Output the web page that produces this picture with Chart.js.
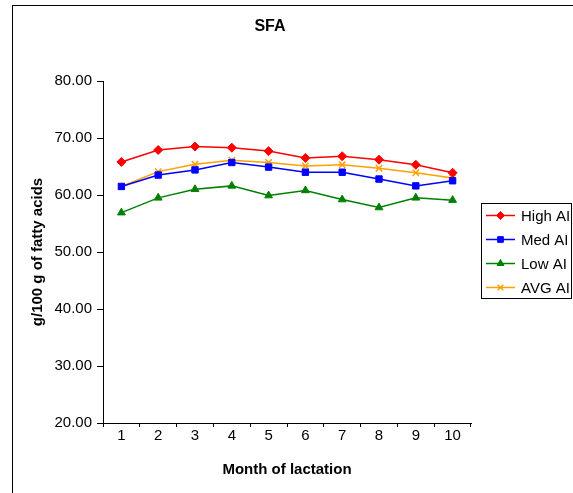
<!DOCTYPE html>
<html>
<head>
<meta charset="utf-8">
<script src="https://cdn.jsdelivr.net/npm/chart.js@4/dist/chart.umd.min.js"></script>
<style>
  html, body { margin: 0; padding: 0; background: #fff; }
  #wrap { width: 573px; height: 493px; position: relative; }
</style>
</head>
<body>
<div id="wrap"><canvas id="sfaChart"></canvas></div>
<script>
// Chart data
const months = ['1', '2', '3', '4', '5', '6', '7', '8', '9', '10'];
const highAI = [65.8, 67.9, 68.5, 68.3, 67.7, 66.5, 66.8, 66.2, 65.3, 63.9];
const medAI  = [61.5, 63.5, 64.4, 65.7, 64.9, 64.0, 64.0, 62.8, 61.6, 62.5];
const lowAI  = [56.9, 59.5, 61.0, 61.6, 59.9, 60.8, 59.2, 57.8, 59.5, 59.1];
const avgAI  = [61.5, 64.1, 65.4, 66.1, 65.7, 65.1, 65.3, 64.7, 63.9, 63.0];
const yTicks = [20, 30, 40, 50, 60, 70, 80];

const FONT = 'Liberation Sans, Arial, sans-serif';

function makeSeries(label, data, color, style, radius) {
    return {
        label: label,
        data: data,
        borderColor: color,
        backgroundColor: color,
        borderWidth: 1.5,
        pointStyle: style,
        pointRadius: radius,
        pointHoverRadius: radius,
        pointBorderWidth: style === 'crossRot' ? 1.5 : 1,
        tension: 0,
        fill: false
    };
}

// frame, title and boxed legend
const decorPlugin = {
    id: 'decor',
    beforeDraw(chart) {
        const ctx = chart.ctx;
        ctx.save();
        ctx.fillStyle = '#fff';
        ctx.fillRect(0, 0, chart.width, chart.height);
        ctx.strokeStyle = '#000';
        ctx.lineWidth = 1;
        ctx.strokeRect(12.5, 5.5, 700, 700);
        ctx.restore();
    },
    afterDraw(chart) {
        const ctx = chart.ctx;
        ctx.save();
        ctx.fillStyle = '#000';
        ctx.font = 'bold 16px ' + FONT;
        ctx.textAlign = 'center';
        ctx.textBaseline = 'middle';
        ctx.fillText('SFA', 270, 27);

        // legend box
        ctx.strokeStyle = '#000';
        ctx.lineWidth = 1;
        ctx.strokeRect(481.5, 203.5, 90, 95);
        ctx.font = '15px ' + FONT;
        ctx.textAlign = 'left';
        chart.data.datasets.forEach((ds, i) => {
            const y = 215.5 + i * 24;
            ctx.strokeStyle = ds.borderColor;
            ctx.fillStyle = ds.backgroundColor;
            ctx.lineWidth = 1.5;
            ctx.beginPath();
            ctx.moveTo(486, y);
            ctx.lineTo(515, y);
            ctx.stroke();
            ctx.lineWidth = ds.pointBorderWidth;
            Chart.helpers.drawPoint(ctx, {
                pointStyle: ds.pointStyle,
                radius: 4,
                rotation: 0,
                borderWidth: ds.pointBorderWidth
            }, 500.5, y);
            ctx.fillStyle = '#000';
            ctx.fillText(ds.label, 521, y + 1);
        });
        ctx.restore();
    }
};

const ctx = document.getElementById('sfaChart');
const chart = new Chart(ctx, {
    type: 'line',
    data: {
        labels: months,
        datasets: [
            makeSeries('High AI', highAI, '#ff0000', 'rectRot', 4.5),
            makeSeries('Med AI', medAI, '#0000ff', 'rect', 4.5),
            makeSeries('Low AI', lowAI, '#008000', 'triangle', 4.5),
            makeSeries('AVG AI', avgAI, '#ffa000', 'crossRot', 4.5)
        ]
    },
    options: {
        responsive: true,
        maintainAspectRatio: false,
        animation: false,
        layout: { padding: { top: 81, left: 25, right: 102, bottom: 10 } },
        plugins: {
            legend: { display: false },
            title: { display: false },
            tooltip: { enabled: false }
        },
        scales: {
            x: {
                offset: true,
                grid: {
                    offset: true,
                    drawOnChartArea: false,
                    color: '#000',
                    tickLength: 4
                },
                border: { color: '#000', width: 1 },
                ticks: { color: '#000', font: { family: FONT, size: 15 }, padding: 0, maxRotation: 0 },
                title: {
                    display: true,
                    text: 'Month of lactation',
                    color: '#000',
                    font: { family: FONT, size: 15, weight: 'bold' }
                },
                afterFit(scale) { scale.height = 60; }
            },
            y: {
                min: yTicks[0],
                max: yTicks[yTicks.length - 1],
                afterBuildTicks(scale) {
                    scale.ticks = yTicks.map(v => ({ value: v }));
                },
                grid: {
                    drawOnChartArea: false,
                    color: '#000',
                    tickLength: 6
                },
                border: { color: '#000', width: 1 },
                ticks: {
                    color: '#000',
                    font: { family: FONT, size: 15 },
                    padding: 5,
                    callback: v => Number(v).toFixed(2)
                },
                title: {
                    display: true,
                    text: 'g/100 g of fatty acids',
                    color: '#000',
                    font: { family: FONT, size: 15, weight: 'bold' }
                },
                afterFit(scale) { scale.width = 78; }
            }
        }
    },
    plugins: [decorPlugin]
});
</script>
</body>
</html>
